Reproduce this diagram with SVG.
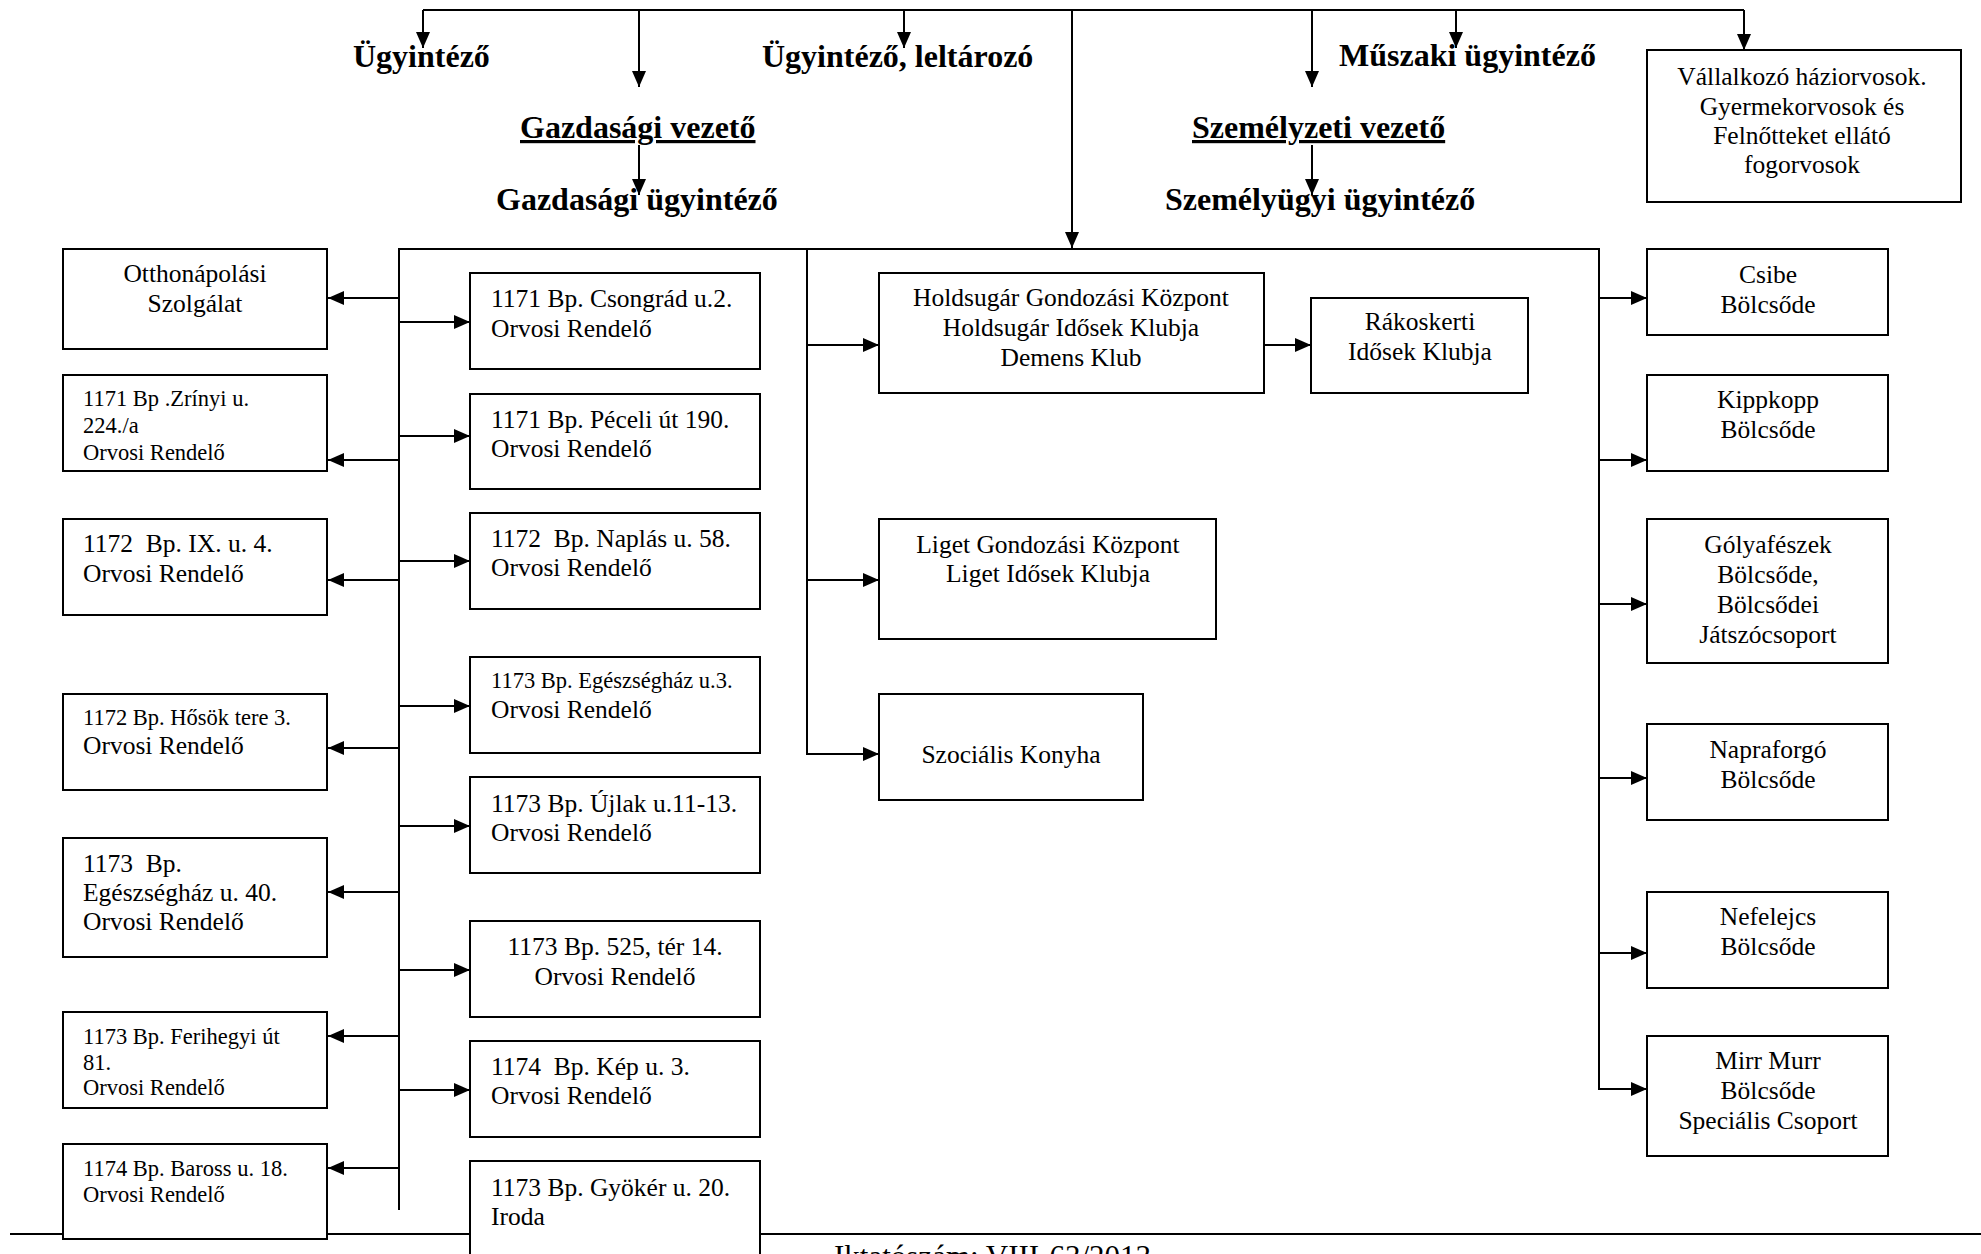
<svg xmlns="http://www.w3.org/2000/svg" width="1981" height="1254" viewBox="0 0 1981 1254">
<defs>
<style>
.box{fill:#fff;stroke:#000;stroke-width:2}
.ln{fill:none;stroke:#000;stroke-width:2}
.arr{fill:none;stroke:#000;stroke-width:2;marker-end:url(#ah)}
text{font-family:"Liberation Serif","Times New Roman",serif;fill:#000}
.t{font-size:25.5px}
.s{font-size:22.5px}
.c{text-anchor:middle}
.h{font-size:32px;font-weight:bold}
.u{text-decoration:underline}
</style>
<marker id="ah" markerUnits="userSpaceOnUse" markerWidth="16" markerHeight="14" refX="16" refY="7" orient="auto">
<path d="M0,0 L16,7 L0,14 z" fill="#000"/>
</marker>
</defs>
<rect width="1981" height="1254" fill="#fff"/>

<g id="connectors">
<line class="ln" x1="10" y1="1234" x2="1981" y2="1234" stroke-width="2.5"/>
<polyline class="ln" points="423,10 1744,10"/>
<line class="arr" x1="423" y1="10" x2="423" y2="48"/>
<line class="arr" x1="639" y1="10" x2="639" y2="87"/>
<line class="arr" x1="904" y1="10" x2="904" y2="48"/>
<line class="arr" x1="1072" y1="10" x2="1072" y2="248"/>
<line class="arr" x1="1312" y1="10" x2="1312" y2="87"/>
<line class="arr" x1="1456" y1="10" x2="1456" y2="48"/>
<line class="arr" x1="1744" y1="10" x2="1744" y2="50"/>
<line class="arr" x1="639" y1="145" x2="639" y2="195"/>
<line class="arr" x1="1312" y1="145" x2="1312" y2="195"/>
<polyline class="ln" points="399,1210 399,249 1599,249 1599,1089"/>
<line class="ln" x1="807" y1="249" x2="807" y2="754"/>
<line class="arr" x1="399" y1="298" x2="328" y2="298"/>
<line class="arr" x1="399" y1="460" x2="328" y2="460"/>
<line class="arr" x1="399" y1="580" x2="328" y2="580"/>
<line class="arr" x1="399" y1="748" x2="328" y2="748"/>
<line class="arr" x1="399" y1="892" x2="328" y2="892"/>
<line class="arr" x1="399" y1="1036" x2="328" y2="1036"/>
<line class="arr" x1="399" y1="1168" x2="328" y2="1168"/>
<line class="arr" x1="399" y1="322" x2="470" y2="322"/>
<line class="arr" x1="399" y1="436" x2="470" y2="436"/>
<line class="arr" x1="399" y1="561" x2="470" y2="561"/>
<line class="arr" x1="399" y1="706" x2="470" y2="706"/>
<line class="arr" x1="399" y1="826" x2="470" y2="826"/>
<line class="arr" x1="399" y1="970" x2="470" y2="970"/>
<line class="arr" x1="399" y1="1090" x2="470" y2="1090"/>
<line class="arr" x1="807" y1="345" x2="879" y2="345"/>
<line class="arr" x1="807" y1="580" x2="879" y2="580"/>
<line class="arr" x1="806" y1="754" x2="879" y2="754"/>
<line class="arr" x1="1264" y1="345" x2="1311" y2="345"/>
<line class="arr" x1="1599" y1="298" x2="1647" y2="298"/>
<line class="arr" x1="1599" y1="460" x2="1647" y2="460"/>
<line class="arr" x1="1599" y1="604" x2="1647" y2="604"/>
<line class="arr" x1="1599" y1="778" x2="1647" y2="778"/>
<line class="arr" x1="1599" y1="953" x2="1647" y2="953"/>
<line class="arr" x1="1598" y1="1089" x2="1647" y2="1089"/>
</g>

<g id="ugyintezo"><text class="h" x="353" y="67">Ügyintéző</text></g>
<g id="ugyintezo-leltarozo"><text class="h" x="762" y="67">Ügyintéző, leltározó</text></g>
<g id="muszaki-ugyintezo"><text class="h" x="1339" y="66">Műszaki ügyintéző</text></g>
<g id="gazdasagi-vezeto"><text class="h u" x="520" y="138">Gazdasági vezető</text></g>
<g id="gazdasagi-ugyintezo"><text class="h" x="496" y="210">Gazdasági ügyintéző</text></g>
<g id="szemelyzeti-vezeto"><text class="h u" x="1192" y="138">Személyzeti vezető</text></g>
<g id="szemelyugyi-ugyintezo"><text class="h" x="1165" y="210">Személyügyi ügyintéző</text></g>

<g id="vallalkozo"><rect class="box" x="1647" y="50" width="314" height="152"/>
<text class="t c" x="1802" y="85">Vállalkozó háziorvosok.</text>
<text class="t c" x="1802" y="115">Gyermekorvosok és</text>
<text class="t c" x="1802" y="144">Felnőtteket ellátó</text>
<text class="t c" x="1802" y="173">fogorvosok</text></g>

<g id="otthonapolasi"><rect class="box" x="63" y="249" width="264" height="100"/>
<text class="t c" x="195" y="282">Otthonápolási</text>
<text class="t c" x="195" y="312">Szolgálat</text></g>
<g id="zrinyi"><rect class="box" x="63" y="375" width="264" height="96"/>
<text class="s" x="83" y="406">1171 Bp .Zrínyi u.</text>
<text class="s" x="83" y="433">224./a</text>
<text class="s" x="83" y="460">Orvosi Rendelő</text></g>
<g id="ix"><rect class="box" x="63" y="519" width="264" height="96"/>
<text class="t" x="83" y="552" xml:space="preserve">1172  Bp. IX. u. 4.</text>
<text class="t" x="83" y="582">Orvosi Rendelő</text></g>
<g id="hosok"><rect class="box" x="63" y="694" width="264" height="96"/>
<text class="s" x="83" y="725">1172 Bp. Hősök tere 3.</text>
<text class="t" x="83" y="754">Orvosi Rendelő</text></g>
<g id="egeszseghaz40"><rect class="box" x="63" y="838" width="264" height="119"/>
<text class="t" x="83" y="872" xml:space="preserve">1173  Bp.</text>
<text class="t" x="83" y="901">Egészségház u. 40.</text>
<text class="t" x="83" y="930">Orvosi Rendelő</text></g>
<g id="ferihegyi"><rect class="box" x="63" y="1012" width="264" height="96"/>
<text class="s" x="83" y="1044">1173 Bp. Ferihegyi út</text>
<text class="s" x="83" y="1070">81.</text>
<text class="s" x="83" y="1095">Orvosi Rendelő</text></g>
<g id="baross"><rect class="box" x="63" y="1144" width="264" height="95"/>
<text class="s" x="83" y="1176">1174 Bp. Baross u. 18.</text>
<text class="s" x="83" y="1202">Orvosi Rendelő</text></g>

<g id="csongrad"><rect class="box" x="470" y="273" width="290" height="96"/>
<text class="t" x="491" y="307">1171 Bp. Csongrád u.2.</text>
<text class="t" x="491" y="337">Orvosi Rendelő</text></g>
<g id="peceli"><rect class="box" x="470" y="394" width="290" height="95"/>
<text class="t" x="491" y="428">1171 Bp. Péceli út 190.</text>
<text class="t" x="491" y="457">Orvosi Rendelő</text></g>
<g id="naplas"><rect class="box" x="470" y="513" width="290" height="96"/>
<text class="t" x="491" y="547" xml:space="preserve">1172  Bp. Naplás u. 58.</text>
<text class="t" x="491" y="576">Orvosi Rendelő</text></g>
<g id="egeszseghaz3"><rect class="box" x="470" y="657" width="290" height="96"/>
<text class="s" x="491" y="688">1173 Bp. Egészségház u.3.</text>
<text class="t" x="491" y="718">Orvosi Rendelő</text></g>
<g id="ujlak"><rect class="box" x="470" y="777" width="290" height="96"/>
<text class="t" x="491" y="812">1173 Bp. Újlak u.11-13.</text>
<text class="t" x="491" y="841">Orvosi Rendelő</text></g>
<g id="ter525"><rect class="box" x="470" y="921" width="290" height="96"/>
<text class="t c" x="615" y="955">1173 Bp. 525, tér 14.</text>
<text class="t c" x="615" y="985">Orvosi Rendelő</text></g>
<g id="kep"><rect class="box" x="470" y="1041" width="290" height="96"/>
<text class="t" x="491" y="1075" xml:space="preserve">1174  Bp. Kép u. 3.</text>
<text class="t" x="491" y="1104">Orvosi Rendelő</text></g>
<g id="gyoker"><rect class="box" x="470" y="1161" width="290" height="110"/>
<text class="t" x="491" y="1196">1173 Bp. Gyökér u. 20.</text>
<text class="t" x="491" y="1225">Iroda</text></g>

<g id="holdsugar"><rect class="box" x="879" y="273" width="385" height="120"/>
<text class="t c" x="1071" y="306">Holdsugár Gondozási Központ</text>
<text class="t c" x="1071" y="336">Holdsugár Idősek Klubja</text>
<text class="t c" x="1071" y="366">Demens Klub</text></g>
<g id="rakoskerti"><rect class="box" x="1311" y="298" width="217" height="95"/>
<text class="t c" x="1420" y="330">Rákoskerti</text>
<text class="t c" x="1420" y="360">Idősek Klubja</text></g>
<g id="liget"><rect class="box" x="879" y="519" width="337" height="120"/>
<text class="t c" x="1048" y="553">Liget Gondozási Központ</text>
<text class="t c" x="1048" y="582">Liget Idősek Klubja</text></g>
<g id="szocialis-konyha"><rect class="box" x="879" y="694" width="264" height="106"/>
<text class="t c" x="1011" y="763">Szociális Konyha</text></g>

<g id="csibe"><rect class="box" x="1647" y="249" width="241" height="86"/>
<text class="t c" x="1768" y="283">Csibe</text>
<text class="t c" x="1768" y="313">Bölcsőde</text></g>
<g id="kippkopp"><rect class="box" x="1647" y="375" width="241" height="96"/>
<text class="t c" x="1768" y="408">Kippkopp</text>
<text class="t c" x="1768" y="438">Bölcsőde</text></g>
<g id="golyafeszek"><rect class="box" x="1647" y="519" width="241" height="144"/>
<text class="t c" x="1768" y="553">Gólyafészek</text>
<text class="t c" x="1768" y="583">Bölcsőde,</text>
<text class="t c" x="1768" y="613">Bölcsődei</text>
<text class="t c" x="1768" y="643">Játszócsoport</text></g>
<g id="napraforgo"><rect class="box" x="1647" y="724" width="241" height="96"/>
<text class="t c" x="1768" y="758">Napraforgó</text>
<text class="t c" x="1768" y="788">Bölcsőde</text></g>
<g id="nefelejcs"><rect class="box" x="1647" y="892" width="241" height="96"/>
<text class="t c" x="1768" y="925">Nefelejcs</text>
<text class="t c" x="1768" y="955">Bölcsőde</text></g>
<g id="mirrmurr"><rect class="box" x="1647" y="1036" width="241" height="120"/>
<text class="t c" x="1768" y="1069">Mirr Murr</text>
<text class="t c" x="1768" y="1099">Bölcsőde</text>
<text class="t c" x="1768" y="1129">Speciális Csoport</text></g>

<g id="footer"><text x="834" y="1267" style="font-size:31px">Iktatószám: VIII-63/2013</text></g>
</svg>
